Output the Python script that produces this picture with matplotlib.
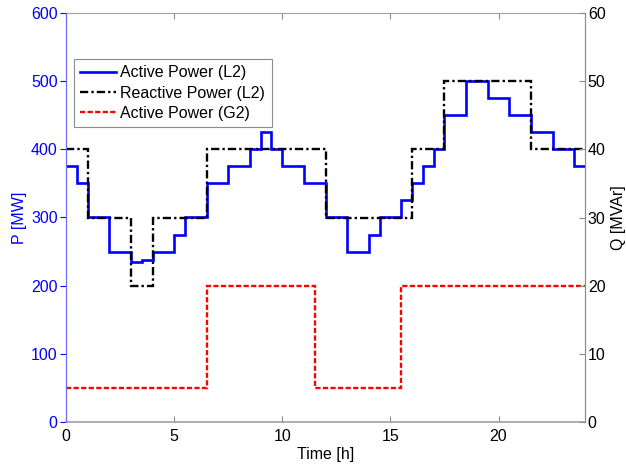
import matplotlib
matplotlib.use("Agg")
import matplotlib.pyplot as plt
import numpy as np

plt.rcParams["font.family"] = ["Liberation Sans", "DejaVu Sans"]
plt.rcParams["font.size"] = 11.5

# active power of load L2 [MW]
p_load_edges = [0, 0.5, 1, 2, 3, 3.5, 4, 5, 5.5, 6.5, 7.5, 8.5, 9, 9.5, 10, 11, 12,
                13, 14, 14.5, 15.5, 16, 16.5, 17, 17.5, 18.5, 19.5, 20.5, 21.5,
                22.5, 23.5, 24]
p_load = [375, 350, 300, 250, 235, 237.5, 250, 275, 300, 350, 375, 400, 425, 400,
          375, 350, 300, 250, 275, 300, 325, 350, 375, 400, 450, 500, 475, 450,
          425, 400, 375]

# reactive power of load L2 [MVAr]
q_load_edges = [0, 1, 3, 4, 6.5, 12, 16, 17.5, 21.5, 24]
q_load = [40, 30, 20, 30, 40, 30, 40, 50, 40]

# active power of generator G2 [MW]
p_gen_edges = [0, 6.5, 11.5, 15.5, 24]
p_gen = [50, 200, 50, 200]

blue = (0, 0, 1)
grey = "#8c8c8c"

fig = plt.figure(figsize=(6.26, 4.66), dpi=100)
ax = fig.add_axes([66 / 626, 1 - 422 / 466, (585 - 66) / 626, (422 - 13) / 466])
ax2 = ax.twinx()

l1 = ax.stairs(p_load, p_load_edges, color=blue, lw=1.9, baseline=None,
               label="Active Power (L2)")
l3 = ax.stairs(p_gen, p_gen_edges, color="red", lw=1.7, baseline=None,
               linestyle=(0, (2.2, 1.0)), label="Active Power (G2)")
l2 = ax2.stairs(q_load, q_load_edges, color="black", lw=1.7, baseline=None,
                linestyle=(0, (3.5, 1.3, 1.0, 1.3)), label="Reactive Power (L2)")

ax.set_xlim(0, 24)
ax.set_ylim(0, 600)
ax2.set_ylim(0, 60)
ax.set_xticks([0, 5, 10, 15, 20])
ax.set_yticks(np.arange(0, 601, 100))
ax2.set_yticks(np.arange(0, 61, 10))

ax.tick_params(axis="x", direction="in", top=True, length=4, color=grey, pad=5)
ax.tick_params(axis="y", direction="out", length=4, colors=blue, pad=2)
ax2.tick_params(axis="y", direction="in", length=4, color=grey, pad=2)

for s in ["top", "bottom"]:
    ax.spines[s].set_color("#a0a0a0")
    ax2.spines[s].set_visible(False)
ax.spines["bottom"].set_linewidth(1.2)
ax.spines["left"].set_color("#6a6aff")
ax2.spines["left"].set_color("#6a6aff")
ax.spines["right"].set_color(grey)
ax2.spines["right"].set_color(grey)

ax.set_xlabel("Time [h]", labelpad=2)
ax.set_ylabel("P [MW]", color=blue, labelpad=3)
ax2.set_ylabel("Q [MVAr]", labelpad=4)

leg = ax2.legend([l1, l2, l3], ["Active Power (L2)", "Reactive Power (L2)", "Active Power (G2)"],
                 loc="upper left", bbox_to_anchor=(0.0154, 0.8875), borderaxespad=0,
                 fancybox=False, framealpha=1, edgecolor=grey, handlelength=2.2,
                 handletextpad=0.3, labelspacing=0.33, borderpad=0.4)
leg.get_frame().set_linewidth(0.8)

fig.savefig("out.png", dpi=100)
